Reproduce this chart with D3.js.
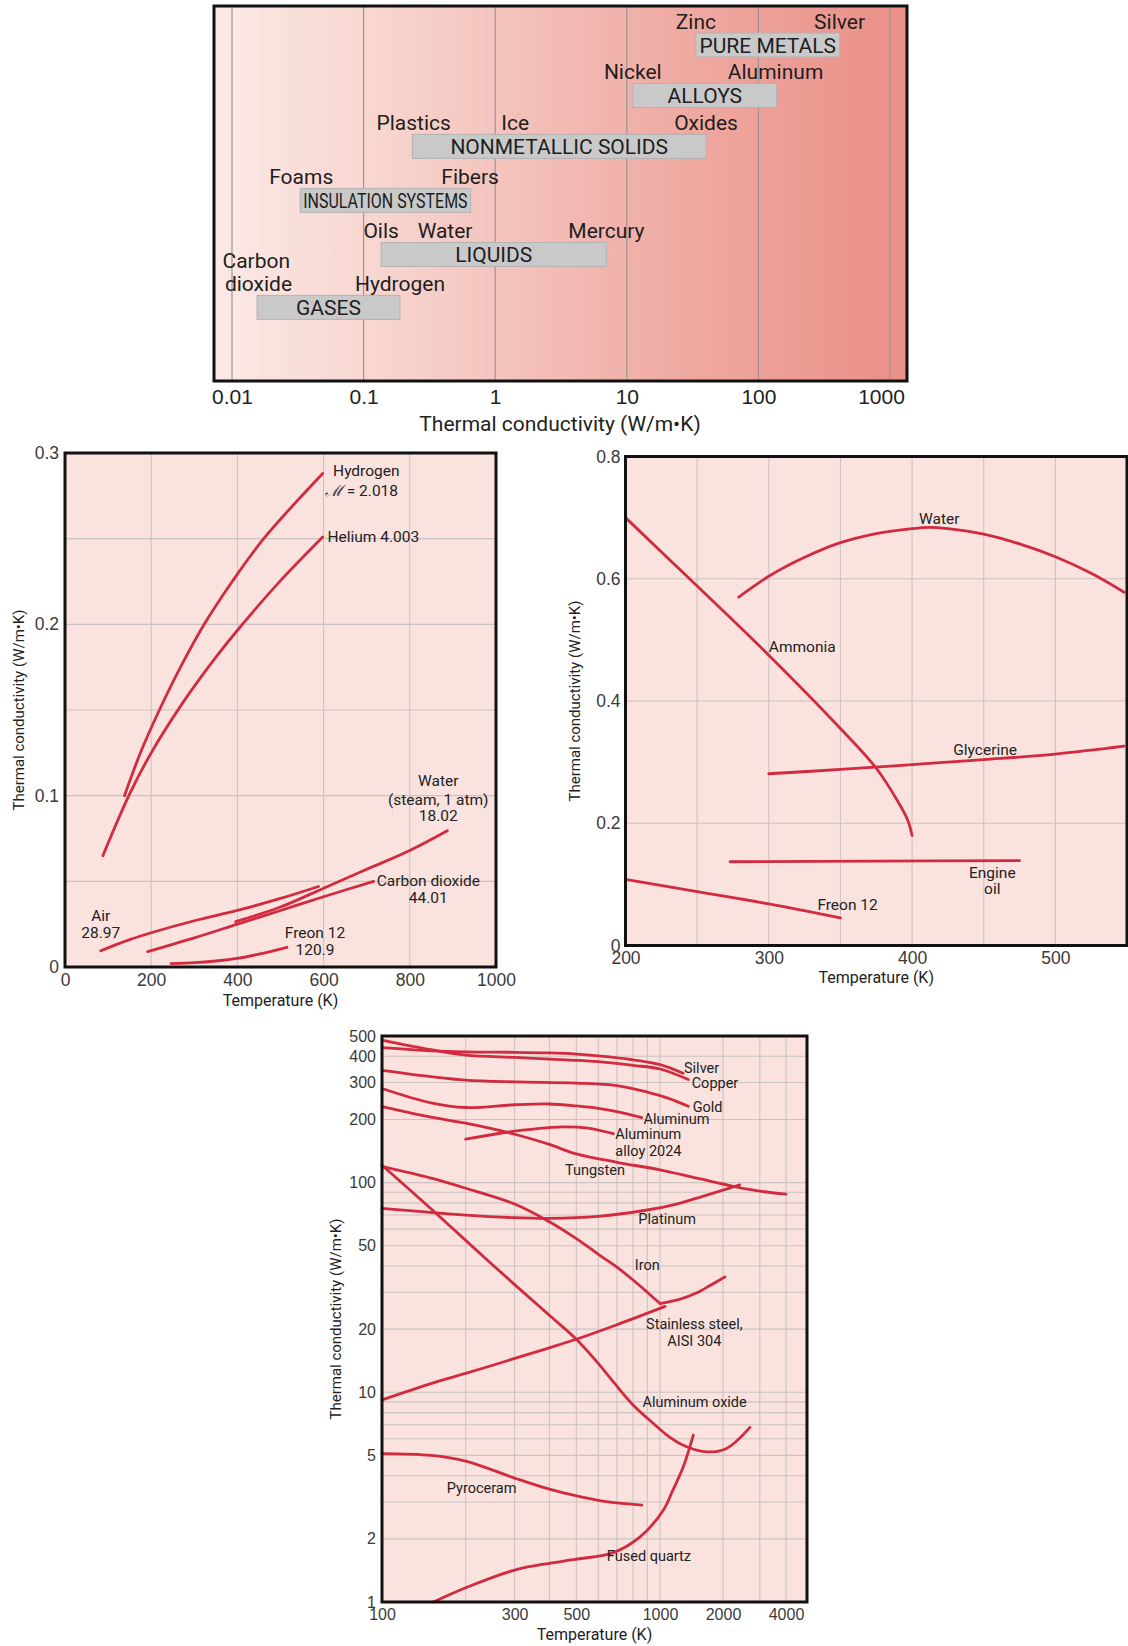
<!DOCTYPE html>
<html>
<head>
<meta charset="utf-8">
<script src="https://cdn.jsdelivr.net/npm/d3@7"></script>
<style>
  body { margin: 0; background: #fff; }
  svg { display: block; font-family: Roboto, "Liberation Sans", sans-serif; }
</style>
</head>
<body>
<svg id="fig" width="1128" height="1646"></svg>
<script>
// ---------- top: conductivity ranges of material classes ----------
const classes   = ['PURE METALS', 'ALLOYS', 'NONMETALLIC SOLIDS', 'INSULATION SYSTEMS', 'LIQUIDS', 'GASES'];
const classLow  = [33.5, 11.1, 0.235, 0.033, 0.136, 0.0155];
const classHigh = [414, 138, 40, 0.65, 7.0, 0.189];
const decades   = [0.01, 0.1, 1, 10, 100, 1000];
const decadeLabels = ['0.01', '0.1', '1', '10', '100', '1000'];
// [name, class row it sits above, k, line above the bar]
const examples = [
  ['Zinc', 'PURE METALS', 33.5, 1], ['Silver', 'PURE METALS', 414, 1],
  ['Nickel', 'ALLOYS', 11.1, 1], ['Aluminum', 'ALLOYS', 135, 1],
  ['Plastics', 'NONMETALLIC SOLIDS', 0.24, 1], ['Ice', 'NONMETALLIC SOLIDS', 1.42, 1], ['Oxides', 'NONMETALLIC SOLIDS', 40, 1],
  ['Foams', 'INSULATION SYSTEMS', 0.0336, 1], ['Fibers', 'INSULATION SYSTEMS', 0.645, 1],
  ['Oils', 'LIQUIDS', 0.136, 1], ['Water', 'LIQUIDS', 0.416, 1], ['Mercury', 'LIQUIDS', 7.0, 1],
  ['Carbon', 'GASES', 0.0153, 2], ['dioxide', 'GASES', 0.0159, 1], ['Hydrogen', 'GASES', 0.189, 1]
];

// ---------- middle left: gases, k vs T ----------
const hydrogen = [[138, 0.100], [175, 0.125], [219, 0.150], [268, 0.175], [323, 0.200], [388, 0.225], [461, 0.250], [598, 0.288]];
const helium   = [[88, 0.065], [150, 0.101], [200, 0.125], [270, 0.153], [340, 0.1775], [405, 0.198], [500, 0.2255], [598, 0.251]];
const steam    = [[396, 0.0265], [500, 0.035], [600, 0.046], [700, 0.057], [800, 0.068], [887, 0.0795]];
const air      = [[83, 0.0095], [150, 0.016], [200, 0.020], [300, 0.027], [400, 0.033], [500, 0.040], [588, 0.047]];
const co2      = [[192, 0.009], [300, 0.017], [400, 0.025], [500, 0.033], [600, 0.041], [716, 0.050]];
const freonGas = [[246, 0.002], [300, 0.0025], [350, 0.0035], [400, 0.005], [450, 0.0075], [515, 0.0115]];
const gasNotes = [
  ['Hydrogen', 622, 0.290, 'start'], ['= 2.018', 603, 0.278, 'start'], ['Helium 4.003', 609, 0.2515, 'start'],
  ['Water', 866, 0.1088, 'middle'], ['(steam, 1 atm)', 866, 0.0981, 'middle'], ['18.02', 866, 0.0882, 'middle'],
  ['Carbon dioxide', 843, 0.0503, 'middle'], ['44.01', 843, 0.0404, 'middle'],
  ['Air', 83, 0.0302, 'middle'], ['28.97', 83, 0.020, 'middle'],
  ['Freon 12', 580, 0.020, 'middle'], ['120.9', 580, 0.010, 'middle']
];

// ---------- middle right: liquids, k vs T ----------
const ammonia   = [[200, 0.700], [250, 0.588], [300, 0.475], [350, 0.355], [375, 0.290], [390, 0.236], [397, 0.205], [400, 0.180]];
const waterLiq  = [[279, 0.570], [300, 0.604], [325, 0.635], [350, 0.659], [375, 0.674], [400, 0.682], [412, 0.684], [425, 0.682], [450, 0.673], [475, 0.657], [500, 0.636], [525, 0.609], [548, 0.578]];
const glycerine = [[300, 0.281], [350, 0.288], [400, 0.296], [450, 0.304], [500, 0.313], [548, 0.326]];
const engineOil = [[273, 0.137], [375, 0.138], [475, 0.139]];
const freonLiq  = [[200, 0.108], [250, 0.088], [300, 0.068], [350, 0.045]];
const liquidNotes = [
  ['Water', 419, 0.699, 'middle'], ['Ammonia', 300, 0.489, 'start'], ['Glycerine', 451, 0.321, 'middle'],
  ['Engine', 456, 0.120, 'middle'], ['oil', 456, 0.093, 'middle'], ['Freon 12', 355, 0.067, 'middle']
];

// ---------- bottom: solids, log k vs log T ----------
const silver    = [[100, 440], [150, 425], [200, 420], [300, 418], [400, 415], [500, 410], [600, 402], [800, 385], [1000, 365], [1290, 332]];
const copper    = [[100, 478], [150, 430], [200, 405], [300, 395], [400, 388], [500, 383], [600, 377], [800, 362], [1000, 348], [1365, 310]];
const gold      = [[100, 343], [150, 320], [200, 308], [300, 302], [500, 298], [700, 290], [900, 270], [1100, 252], [1365, 231]];
const aluminum  = [[100, 281], [150, 240], [200, 228], [300, 235], [400, 237], [500, 232], [600, 226], [700, 218], [860, 204]];
const alloy2024 = [[200, 161], [300, 176], [400, 183], [450, 184.5], [550, 182], [680, 171]];
const tungsten  = [[100, 230], [150, 205], [200, 192], [300, 170], [400, 152], [500, 137], [700, 125], [1000, 115], [1500, 105], [2300, 95.5], [3000, 91], [4000, 88]];
const platinum  = [[100, 75.3], [200, 70], [300, 68], [400, 67.5], [600, 69], [900, 74], [1200, 79], [1600, 86], [2000, 92], [2400, 97.5]];
const ironCold  = [[100, 119], [150, 105], [200, 94], [300, 79], [400, 65], [500, 54], [600, 45.5], [700, 39.5], [800, 34.3], [900, 30], [1000, 26.5]];
const ironHot   = [[1000, 26.5], [1250, 27.8], [1500, 29.8], [1750, 32.5], [2045, 35.5]];
const steel304  = [[100, 9.2], [150, 11], [200, 12.3], [300, 14.5], [400, 16.3], [500, 17.9], [700, 21], [1057, 25.7]];
const alOxide   = [[100, 121], [150, 75], [200, 53], [300, 32.6], [400, 23.3], [500, 17.9], [592, 14.0], [680, 11.2], [800, 8.7], [947, 7.1], [1116, 6.1], [1341, 5.5], [1671, 5.2], [2081, 5.4], [2690, 6.8]];
const pyroceram = [[100, 5.1], [150, 5.0], [200, 4.7], [300, 3.9], [400, 3.45], [515, 3.18], [650, 3.0], [860, 2.9]];
const quartz    = [[153, 1.0], [200, 1.17], [300, 1.42], [400, 1.53], [500, 1.6], [680, 1.72], [850, 2.05], [1037, 2.74], [1150, 3.4], [1292, 4.41], [1443, 6.25]];
const solidNotes = [
  ['Silver', 1302, 352, 'start'], ['Copper', 1417, 300, 'start'], ['Gold', 1433, 230, 'start'],
  ['Aluminum', 873, 202, 'start'], ['Aluminum', 691, 170, 'start'], ['alloy 2024', 691, 141.6, 'start'],
  ['Tungsten', 455, 114.6, 'start'], ['Platinum', 836, 67.4, 'start'], ['Iron', 812, 40.7, 'start'],
  ['Stainless steel,', 1459, 21.3, 'middle'], ['AISI 304', 1459, 17.7, 'middle'],
  ['Aluminum oxide', 865, 9.0, 'start'], ['Pyroceram', 171, 3.51, 'start'], ['Fused quartz', 644, 1.66, 'start']
];
const kTicks = [1, 2, 5, 10, 20, 50, 100, 200, 300, 400, 500];
const kGrid  = [2, 3, 4, 5, 6, 7, 8, 9, 10, 20, 30, 40, 50, 60, 70, 80, 90, 100, 200, 300, 400];
const tTicks = [100, 300, 500, 1000, 2000, 4000];
const tGrid  = [200, 300, 400, 500, 600, 700, 800, 900, 1000, 2000, 3000, 4000];

const svg = d3.select('#fig');
const red = '#d22a3e';
const panelFill = '#fae3df';
const gridColor = '#cbc3c1';

// ===== top panel =====
let ax = d3.scaleLog().domain([0.0073, 1346]).range([214, 907]);
let ay = d3.scaleOrdinal().domain(classes).range([45, 95.5, 146.4, 200.4, 254.5, 307.4]);

let grad = svg.append('defs').append('linearGradient').attr('id', 'heat')
  .attr('x1', '0%').attr('x2', '100%');
[['0%', '#fbe9e6'], ['22%', '#f8d7d1'], ['45%', '#f3c0b9'], ['65%', '#efaca4'], ['85%', '#ec9b93'], ['100%', '#ea8f87']]
  .forEach(([o, c]) => grad.append('stop').attr('offset', o).attr('stop-color', c));

svg.append('rect').attr('x', 214).attr('y', 6).attr('width', 693).attr('height', 375).attr('fill', 'url(#heat)');

svg.append('g').selectAll('line').data(decades).join('line')
  .attr('x1', d => ax(d)).attr('x2', d => ax(d))
  .attr('y1', 6).attr('y2', 381)
  .attr('stroke', '#9d9594').attr('stroke-width', 1.2);

let bars = svg.append('g');
classes.forEach((c, i) => {
  let x0 = ax(classLow[i]), x1 = ax(classHigh[i]);
  bars.append('rect')
    .attr('x', x0).attr('y', ay(c) - 12).attr('width', x1 - x0).attr('height', 24)
    .attr('fill', '#c9c9c9').attr('stroke', '#b3b3b3').attr('stroke-width', 1);
  let t = bars.append('text')
    .attr('x', (x0 + x1) / 2).attr('y', ay(c)).attr('dy', '0.36em')
    .attr('text-anchor', 'middle').attr('font-size', 21).attr('fill', '#1e1e1e')
    .text(c);
  if (c === 'INSULATION SYSTEMS') {
    t.attr('textLength', x1 - x0 - 6).attr('lengthAdjust', 'spacingAndGlyphs');
  }
});

svg.append('g').selectAll('text').data(examples).join('text')
  .attr('x', d => ax(d[2]))
  .attr('y', d => ay(d[1]) - 24 - (d[3] - 1) * 23).attr('dy', '0.36em')
  .attr('text-anchor', 'middle').attr('font-size', 21).attr('fill', '#1e1e1e')
  .text(d => d[0]);

svg.append('rect').attr('x', 214).attr('y', 6).attr('width', 693).attr('height', 375)
  .attr('fill', 'none').attr('stroke', '#111').attr('stroke-width', 3);

let axA = svg.append('g').attr('transform', 'translate(0,381)')
  .call(d3.axisBottom(ax).tickValues(decades).tickSize(0).tickPadding(8)
    .tickFormat((d, i) => decadeLabels[i]));
axA.select('.domain').remove();
axA.selectAll('text').attr('font-size', 21).attr('fill', '#222').attr('font-family', null)
  .attr('dx', (d, i) => i === decades.length - 1 ? -9 : 0);

svg.append('text').attr('x', 560).attr('y', 423).attr('dy', '0.36em')
  .attr('text-anchor', 'middle').attr('font-size', 21).attr('fill', '#222')
  .text('Thermal conductivity (W/m•K)');

// ===== shared helpers =====
function frame(box) {
  svg.append('rect').attr('x', box.x0).attr('y', box.y0)
    .attr('width', box.x1 - box.x0).attr('height', box.y1 - box.y0)
    .attr('fill', 'none').attr('stroke', '#111').attr('stroke-width', 3);
}

function gridLines(box, x, y, xs, ys) {
  let g = svg.append('g').attr('stroke', gridColor).attr('stroke-width', 1.1);
  g.selectAll('.v').data(xs).join('line').attr('class', 'v')
    .attr('x1', d => x(d)).attr('x2', d => x(d)).attr('y1', box.y0).attr('y2', box.y1);
  g.selectAll('.h').data(ys).join('line').attr('class', 'h')
    .attr('y1', d => y(d)).attr('y2', d => y(d)).attr('x1', box.x0).attr('x2', box.x1);
}

function curves(x, y, list) {
  let line = d3.line().x(d => x(d[0])).y(d => y(d[1])).curve(d3.curveCatmullRom.alpha(0.5));
  svg.append('g').selectAll('path').data(list).join('path')
    .attr('d', line)
    .attr('fill', 'none').attr('stroke', red).attr('stroke-width', 2.8).attr('stroke-linecap', 'round');
}

function notes(x, y, list, size) {
  return svg.append('g').selectAll('text').data(list).join('text')
    .attr('x', d => x(d[1])).attr('y', d => y(d[2])).attr('dy', '0.36em')
    .attr('text-anchor', d => d[3]).attr('font-size', size).attr('fill', '#222')
    .text(d => d[0]);
}

function axes(box, x, y, xVals, yVals, xFmt, yFmt, size, pad) {
  let gx = svg.append('g').attr('transform', `translate(0,${box.y1})`)
    .call(d3.axisBottom(x).tickValues(xVals).tickSize(0).tickPadding(pad).tickFormat(xFmt));
  let gy = svg.append('g').attr('transform', `translate(${box.x0},0)`)
    .call(d3.axisLeft(y).tickValues(yVals).tickSize(0).tickPadding(pad - 1).tickFormat(yFmt));
  [gx, gy].forEach(g => {
    g.select('.domain').remove();
    g.selectAll('text').attr('font-size', size).attr('fill', '#3a3a3a').attr('font-family', null);
  });
}

function titles(box, xTitle, yTitle, yTitleX, xTitleY) {
  svg.append('text').attr('x', (box.x0 + box.x1) / 2).attr('y', xTitleY).attr('dy', '0.36em')
    .attr('text-anchor', 'middle').attr('font-size', 16).attr('fill', '#222').text(xTitle);
  let cy = (box.y0 + box.y1) / 2;
  svg.append('text').attr('transform', `translate(${yTitleX},${cy}) rotate(-90)`).attr('dy', '0.36em')
    .attr('text-anchor', 'middle').attr('font-size', 15).attr('fill', '#222').text(yTitle);
}

// ===== gases panel =====
let gb = { x0: 65, x1: 496, y0: 453, y1: 967 };
let gx = d3.scaleLinear().domain([0, 1000]).range([gb.x0, gb.x1]);
let gy = d3.scaleLinear().domain([0, 0.3]).range([gb.y1, gb.y0]);
svg.append('rect').attr('x', gb.x0).attr('y', gb.y0).attr('width', gb.x1 - gb.x0).attr('height', gb.y1 - gb.y0).attr('fill', panelFill);
gridLines(gb, gx, gy, [200, 400, 600, 800], [0.05, 0.1, 0.15, 0.2, 0.25]);
curves(gx, gy, [hydrogen, helium, steam, air, co2, freonGas]);
let gasText = notes(gx, gy, gasNotes, 15.5);
// molar mass symbol in a script face before "= 2.018"
gasText.filter(d => d[0] === '= 2.018')
  .text(null)
  .call(t => {
    t.append('tspan').attr('font-family', '"DejaVu Serif", serif').attr('font-style', 'italic').text('ℳ');
    t.append('tspan').text(' = 2.018');
  });
frame(gb);
axes(gb, gx, gy, [0, 200, 400, 600, 800, 1000], [0, 0.1, 0.2, 0.3], d3.format('d'), d => d === 0 ? '0' : d3.format('.1f')(d), 17.5, 7);
titles(gb, 'Temperature (K)', 'Thermal conductivity (W/m•K)', 19, 1000);

// ===== liquids panel =====
let lb = { x0: 625.5, x1: 1127, y0: 456.5, y1: 945.5 };
let lx = d3.scaleLinear().domain([200, 550]).range([lb.x0, lb.x1]);
let ly = d3.scaleLinear().domain([0, 0.8]).range([lb.y1, lb.y0]);
svg.append('rect').attr('x', lb.x0).attr('y', lb.y0).attr('width', lb.x1 - lb.x0).attr('height', lb.y1 - lb.y0).attr('fill', panelFill);
gridLines(lb, lx, ly, [250, 300, 350, 400, 450, 500], [0.2, 0.4, 0.6]);
curves(lx, ly, [ammonia, waterLiq, glycerine, engineOil, freonLiq]);
notes(lx, ly, liquidNotes, 15.5);
frame(lb);
axes(lb, lx, ly, [200, 300, 400, 500], [0, 0.2, 0.4, 0.6, 0.8], d3.format('d'), d => d === 0 ? '0' : d3.format('.1f')(d), 17.5, 6);
titles(lb, 'Temperature (K)', 'Thermal conductivity (W/m•K)', 575, 977);

// ===== solids panel =====
let sb = { x0: 382, x1: 807, y0: 1036, y1: 1602 };
let sx = d3.scaleLog().domain([100, 1000, 5040]).range([sb.x0, 660, sb.x1]);
let sy = d3.scaleLog().domain([1, 500]).range([sb.y1, sb.y0]);
svg.append('rect').attr('x', sb.x0).attr('y', sb.y0).attr('width', sb.x1 - sb.x0).attr('height', sb.y1 - sb.y0).attr('fill', panelFill);
gridLines(sb, sx, sy, tGrid, kGrid);
curves(sx, sy, [silver, copper, gold, aluminum, alloy2024, tungsten, platinum, ironCold, ironHot, steel304, alOxide, pyroceram, quartz]);
notes(sx, sy, solidNotes, 14.5);
frame(sb);
axes(sb, sx, sy, tTicks, kTicks, d3.format('d'), d3.format('d'), 16, 7);
titles(sb, 'Temperature (K)', 'Thermal conductivity (W/m•K)', 336, 1634);
</script>
</body>
</html>
